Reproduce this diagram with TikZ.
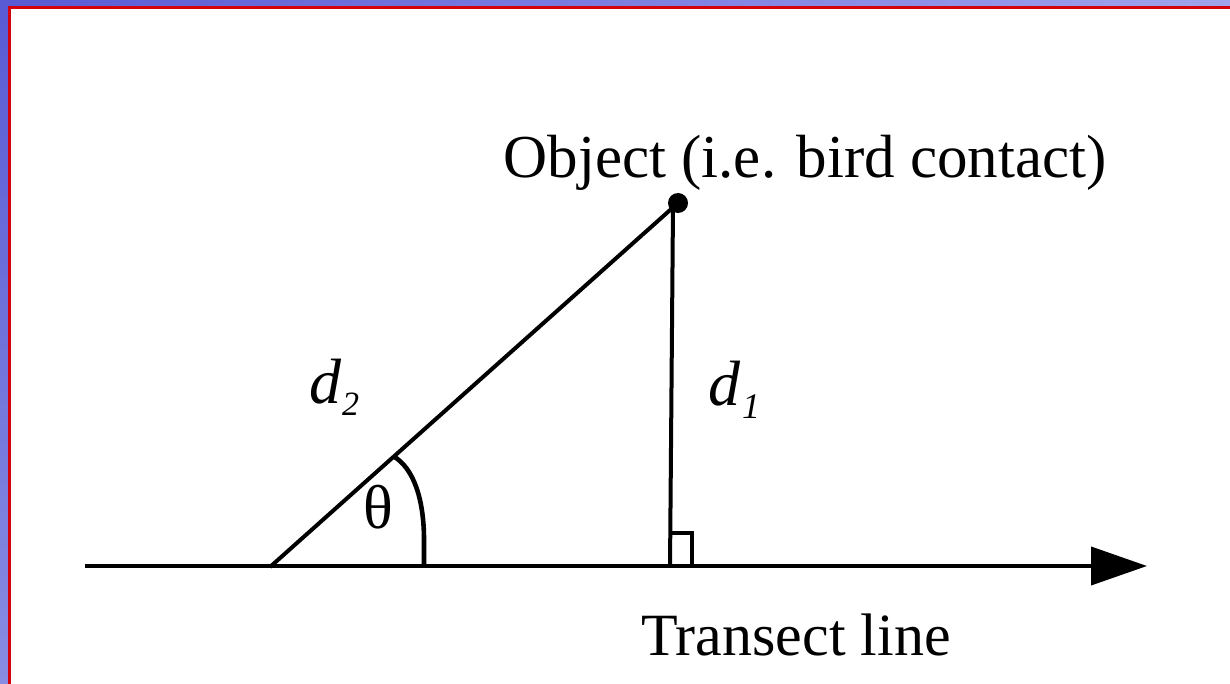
\documentclass[tikz,border=0pt]{standalone}
\usepackage{fontspec}
\setmainfont{Liberation Serif}
\usetikzlibrary{arrows.meta,shadings}
\definecolor{bdark}{RGB}{88,90,212}
\definecolor{blight}{RGB}{160,164,236}
\definecolor{bmid}{RGB}{136,140,226}
\definecolor{bred}{RGB}{212,0,12}
\tikzset{
  ln/.style={line width=4pt, black},
  lbl/.style={inner sep=0pt, outer sep=0pt, anchor=base},
  dotnode/.style={circle, fill=black, inner sep=0pt, minimum size=20pt},
}
\begin{document}
\begin{tikzpicture}[x=1pt,y=-1pt]
\useasboundingbox (0,0) rectangle (1230,684);
% frame
\shade[upper left=bdark, upper right=blight, lower left=bmid, lower right=blight] (0,0) rectangle (1230,684);
\fill[bred] (8,6) rectangle (1230,684);
\fill[white] (11,9) rectangle (1230,684);
% points
\coordinate (start) at (85,566);
\coordinate (tip) at (1147,566);
\coordinate (vtx) at (270,567);
\coordinate (foot) at (670,567);
\coordinate (vtop) at (673,206);
\coordinate (arcend) at (424,567);
\coordinate (arctop) at (393,456);
\node[dotnode] (obj) at (678,203) {};
% lines
\draw[ln, -{Triangle[length=56pt,width=38pt]}] (start) -- (tip);
\draw[ln] (vtx) -- (obj.center);
\draw[ln] (vtop) -- (foot);
\draw[ln, line width=4.6pt] (arctop) .. controls (414,468) and (424,500) .. (424,540) -- (arcend);
% right angle mark
\draw[ln, line width=3.2pt] (670,533) -- (692,533) -- (692,567);
% labels
\node[lbl] (objlbl) at (805,178) {\fontsize{61}{61}\selectfont Object (i.e. bird contact)};
\node[lbl] (translbl) at (796,655) {\fontsize{60}{60}\selectfont Transect line};
\node[lbl, anchor=base west] (dtwo) at (309,403) {\fontsize{64}{64}\selectfont\itshape d\kern1pt\raisebox{-12pt}{\fontsize{34}{34}\selectfont 2}};
\node[lbl, anchor=base west] (done) at (708,405) {\fontsize{64}{64}\selectfont\itshape d\kern2pt\raisebox{-13pt}{\fontsize{36}{36}\selectfont 1}};
\node[lbl] (theta) at (378,528) {\fontsize{62}{62}\selectfont θ};
\end{tikzpicture}
\end{document}
